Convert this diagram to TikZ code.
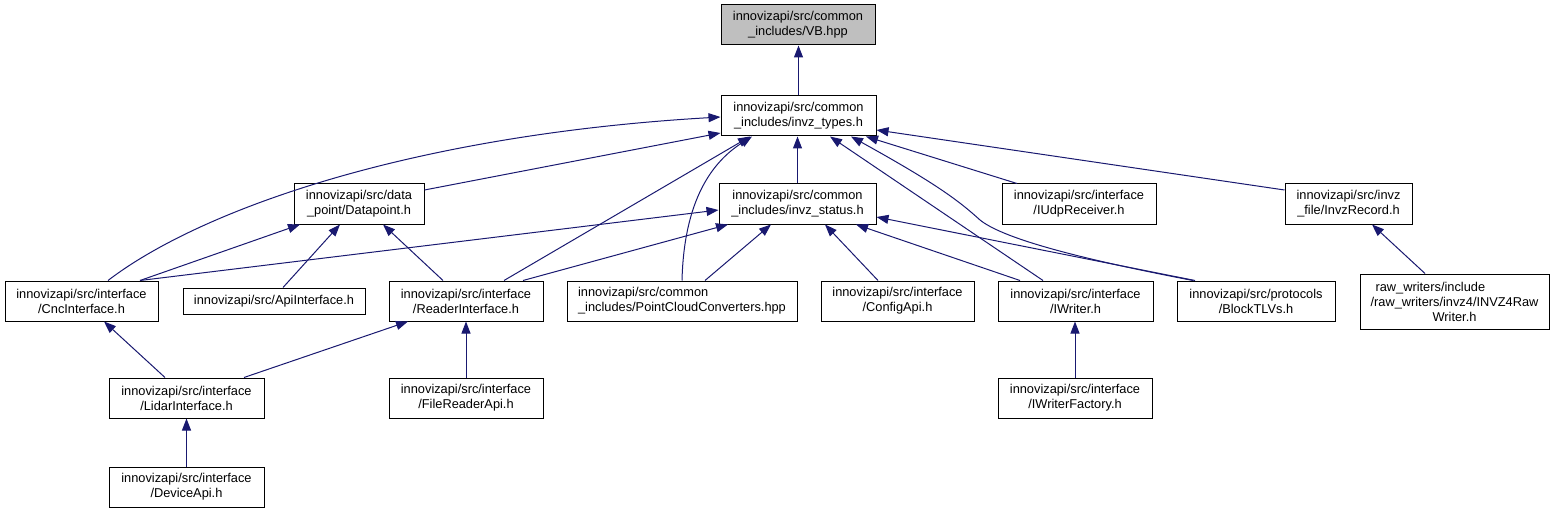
\documentclass[tikz,border=0pt]{standalone}
\usepackage{fontspec}
\setmainfont{Liberation Sans}
\usetikzlibrary{arrows.meta,calc}
\definecolor{edgeblue}{RGB}{25,25,112}
\definecolor{rootfill}{RGB}{191,191,191}
\begin{document}
\begin{tikzpicture}[x=1pt,y=-1pt,
  box/.style={draw=black,line width=1pt,fill=white,inner sep=0pt,align=center,
    font=\fontsize{12.8}{15}\selectfont},
  dep/.style={draw=edgeblue,line width=1pt,-{Triangle[length=12pt,width=9pt]}}]
\useasboundingbox (0,0) rectangle (1552,513);
% nodes
\node[box,fill=rootfill,minimum width=154pt,minimum height=40pt] (vb) at (798,25) {innovizapi/src/common\\\_includes/VB.hpp};
\node[box,minimum width=155pt,minimum height=40pt] (types) at (798.5,116) {innovizapi/src/common\\\_includes/invz\_types.h};
\node[box,minimum width=130pt,minimum height=40pt] (dp) at (359,204) {innovizapi/src/data\\\_point/Datapoint.h};
\node[box,minimum width=157pt,minimum height=40pt] (status) at (797.5,204) {innovizapi/src/common\\\_includes/invz\_status.h};
\node[box,minimum width=154pt,minimum height=40pt] (udp) at (1079,204) {innovizapi/src/interface\\/IUdpReceiver.h};
\node[box,minimum width=127pt,minimum height=40pt] (rec) at (1348.5,204) {innovizapi/src/invz\\\_file/InvzRecord.h};
\node[box,minimum width=153pt,minimum height=40pt] (cnc) at (81.5,301) {innovizapi/src/interface\\/CncInterface.h};
\node[box,minimum width=182pt,minimum height=26pt] (api) at (274,301) {innovizapi/src/ApiInterface.h};
\node[box,minimum width=154pt,minimum height=40pt] (reader) at (466,301) {innovizapi/src/interface\\/ReaderInterface.h};
\node[box,align=left,minimum width=230pt,minimum height=40pt] (pcc) at (682,301) {innovizapi/src/common\\\_includes/PointCloudConverters.hpp};
\node[box,minimum width=153pt,minimum height=40pt] (cfg) at (897.5,301) {innovizapi/src/interface\\/ConfigApi.h};
\node[box,minimum width=155pt,minimum height=40pt] (iw) at (1075.5,301) {innovizapi/src/interface\\/IWriter.h};
\node[box,minimum width=158pt,minimum height=40pt] (blk) at (1256,301) {innovizapi/src/protocols\\/BlockTLVs.h};
\node[box,minimum width=189pt,minimum height=55pt] (raw) at (1454.5,301.5) {\hspace*{5pt}\rlap{raw\_writers/include}\phantom{/raw\_writers/invz4/INVZ4Raw}\hspace*{-5pt}\\/raw\_writers/invz4/INVZ4Raw\\Writer.h};
\node[box,minimum width=155pt,minimum height=40pt] (lidar) at (186.5,398) {innovizapi/src/interface\\/LidarInterface.h};
\node[box,minimum width=154pt,minimum height=40pt] (frapi) at (466,398) {innovizapi/src/interface\\/FileReaderApi.h};
\node[box,minimum width=155pt,minimum height=40pt] (dev) at (186.5,487) {innovizapi/src/interface\\/DeviceApi.h};
\node[box,minimum width=154pt,minimum height=40pt] (iwf) at (1075,398) {innovizapi/src/interface\\/IWriterFactory.h};
% edges
\draw[dep] (types.north) -- (types.north |- vb.south);
\draw[dep] ([yshift=14pt]dp.east) -- ([yshift=-17pt]types.west);
\draw[dep] ([xshift=26.5pt]cnc.north) .. controls (200,210) and (410,135) .. ([yshift=-1pt]types.west);
\draw[dep] ([xshift=58.5pt]cnc.north) -- ([xshift=-59pt]dp.south);
\draw[dep] ([xshift=58.5pt]cnc.north) -- ([yshift=-6pt]status.west);
\draw[dep] ([xshift=9pt]api.north) -- ([xshift=-19pt]dp.south);
\draw[dep] ([xshift=-23pt]reader.north) -- ([xshift=24pt]dp.south);
\draw[dep] ([xshift=38pt]reader.north) -- ([xshift=-48.5pt]types.south);
\draw[dep] ([xshift=57pt]reader.north) -- ([xshift=-69.5pt]status.south);
\draw[dep] (pcc.north) .. controls (684,200) and (712,162) .. ([xshift=-46.5pt]types.south);
\draw[dep] ([xshift=23pt]pcc.north) -- ([xshift=-26.5pt]status.south);
\draw[dep] (status.north) -- (status.north |- types.south);
\draw[dep] ([xshift=-19.5pt]cfg.north) -- ([xshift=27.5pt]status.south);
\draw[dep] ([xshift=-55.5pt]iw.north) -- ([xshift=58.5pt]status.south);
\draw[dep] ([xshift=-32.5pt]iw.north) -- ([xshift=31.5pt]types.south);
\draw[dep] ([xshift=-61pt]blk.north) -- ([yshift=-13pt]status.east);
\draw[dep] ([xshift=-63pt]blk.north) .. controls (1060,255) and (1000,236) .. (980,220) .. controls (958,200) and (935,183) .. ([xshift=52.5pt]types.south);
\draw[dep] ([xshift=-62pt]udp.north) -- ([xshift=67.5pt]types.south);
\draw[dep] ([yshift=14pt]rec.west) -- ([yshift=-14pt]types.east);
\draw[dep] ([xshift=-29.5pt]raw.north) -- ([xshift=23.5pt]rec.south);
\draw[dep] (iwf.north) -- (iwf.north |- iw.south);
\draw[dep] ([xshift=-21.5pt]lidar.north) -- ([xshift=22.5pt]cnc.south);
\draw[dep] ([xshift=57.5pt]lidar.north) -- ([xshift=-58pt]reader.south);
\draw[dep] (frapi.north) -- (reader.south);
\draw[dep] (dev.north) -- (lidar.south);
\end{tikzpicture}
\end{document}
